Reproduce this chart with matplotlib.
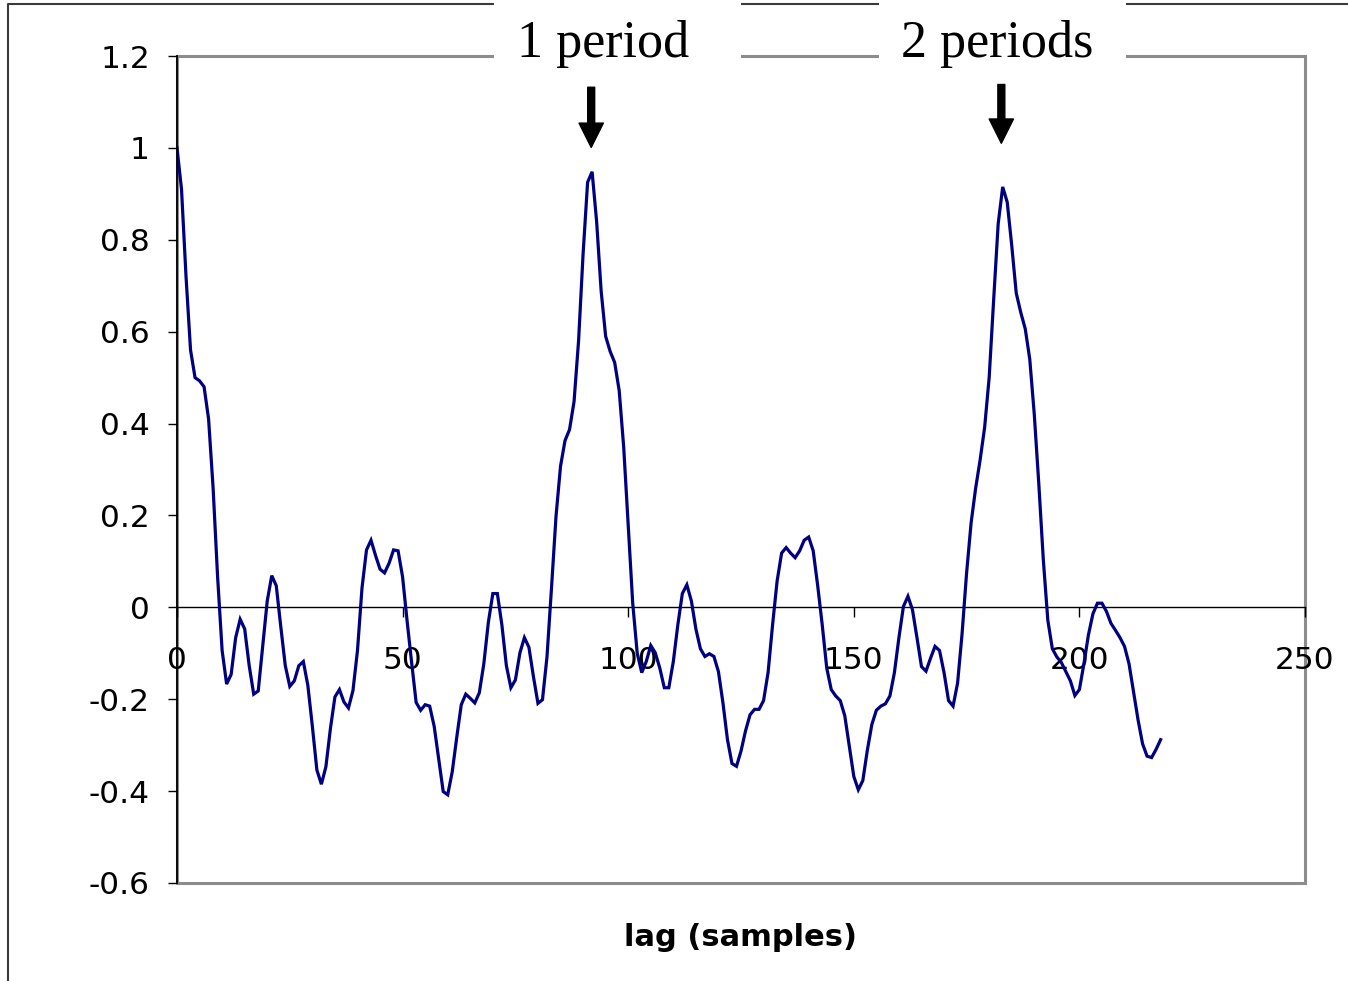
import numpy as np
import matplotlib
matplotlib.use("Agg")
import matplotlib.pyplot as plt
from matplotlib.patches import Rectangle
from matplotlib.lines import Line2D
from matplotlib.ticker import FuncFormatter

# ---------------- data ----------------
acf_0_49 = [1.0, 0.91, 0.72, 0.56, 0.50, 0.493, 0.48, 0.41, 0.26, 0.066,
            -0.094, -0.167, -0.146, -0.066, -0.026, -0.047, -0.127, -0.189, -0.182, -0.085,
            0.014, 0.069, 0.047, -0.042, -0.127, -0.172, -0.160, -0.127, -0.118, -0.170,
            -0.259, -0.354, -0.385, -0.347, -0.264, -0.195, -0.179, -0.206, -0.219, -0.181,
            -0.094, 0.042, 0.125, 0.146, 0.113, 0.083, 0.075, 0.096, 0.125, 0.123]
acf_50_99 = [0.066, -0.03, -0.12, -0.207, -0.224, -0.212, -0.215, -0.259, -0.330, -0.401,
             -0.408, -0.358, -0.283, -0.212, -0.189, -0.198, -0.208, -0.186, -0.123, -0.033,
             0.030, 0.030, -0.038, -0.127, -0.175, -0.158, -0.099, -0.066, -0.087, -0.151,
             -0.209, -0.201, -0.108, 0.042, 0.198, 0.307, 0.363, 0.387, 0.448, 0.580,
             0.769, 0.925, 0.948, 0.840, 0.689, 0.590, 0.557, 0.533, 0.472, 0.349]
acf_100_149 = [0.179, 0.009, -0.10, -0.142, -0.118, -0.083, -0.099, -0.132, -0.175, -0.175,
               -0.118, -0.038, 0.030, 0.049, 0.014, -0.047, -0.090, -0.107, -0.101, -0.107,
               -0.140, -0.208, -0.288, -0.340, -0.346, -0.313, -0.269, -0.234, -0.222, -0.222,
               -0.203, -0.142, -0.038, 0.057, 0.118, 0.130, 0.118, 0.108, 0.123, 0.146,
               0.153, 0.123, 0.047, -0.038, -0.132, -0.179, -0.193, -0.203, -0.236, -0.302]
acf_150_199 = [-0.368, -0.397, -0.377, -0.311, -0.255, -0.224, -0.215, -0.210, -0.193, -0.142,
               -0.066, 0.002, 0.024, -0.005, -0.066, -0.129, -0.139, -0.111, -0.085, -0.094,
               -0.142, -0.203, -0.215, -0.165, -0.057, 0.075, 0.184, 0.259, 0.321, 0.392,
               0.500, 0.670, 0.835, 0.915, 0.882, 0.788, 0.684, 0.642, 0.606, 0.540,
               0.420, 0.269, 0.104, -0.028, -0.090, -0.108, -0.12, -0.14, -0.160, -0.192]
acf_200_218 = [-0.179, -0.123, -0.06, -0.014, 0.009, 0.009, -0.009, -0.035, -0.050, -0.066,
               -0.085, -0.123, -0.184, -0.245, -0.297, -0.324, -0.327, -0.309, -0.288]

acf = acf_0_49 + acf_50_99 + acf_100_149 + acf_150_199 + acf_200_218
lags = list(range(len(acf)))

x_ticks = [0, 50, 100, 150, 200, 250]
y_ticks = [-0.6, -0.4, -0.2, 0, 0.2, 0.4, 0.6, 0.8, 1.0, 1.2]
x_label = "lag (samples)"
annot_labels = ["1 period", "2 periods"]
annot_lags = [91.8, 182.7]          # where the arrows point
annot_tip = [1.001, 1.010]
annot_top = [1.132, 1.138]

# ---------------- figure ----------------
W, H = 1348, 981
fig = plt.figure(figsize=(W / 100, H / 100), dpi=100)
fig.patch.set_facecolor("white")

def fx(px):
    return px / W

def fy(py):
    return 1 - py / H

L, R, T, B = 177, 1305, 56, 883
ax = fig.add_axes([fx(L), fy(B), fx(R - L), (B - T) / H])
ax.set_facecolor("white")

ax.plot(lags, acf, color="#000080", lw=2.3, zorder=3, solid_joinstyle="miter")

ax.set_xlim(0, 250)
ax.set_ylim(-0.6, 1.2)

# frame: grey plot-area border, black value axis
for s in ["top", "right"]:
    ax.spines[s].set_visible(False)
ax.add_patch(Rectangle((0, 0), 1, 1, transform=ax.transAxes, fill=False,
                       edgecolor="#8c8c8c", lw=2.2, clip_on=False, zorder=1))
ax.spines["left"].set_color("black")
ax.spines["left"].set_linewidth(1.3)
ax.spines["left"].set_zorder(4)
ax.spines["bottom"].set_position(("data", 0))
ax.spines["bottom"].set_color("black")
ax.spines["bottom"].set_linewidth(1.0)
ax.spines["bottom"].set_zorder(2)

ax.set_xticks(x_ticks)
ax.set_yticks(y_ticks)
ax.xaxis.set_major_formatter(FuncFormatter(lambda v, p: f"{v:g}"))
ax.yaxis.set_major_formatter(FuncFormatter(lambda v, p: f"{round(v, 1):g}"))
ax.tick_params(axis="x", direction="out", length=7, width=1, pad=21,
               labelsize=22.5, colors="black")
ax.tick_params(axis="y", direction="out", length=6.5, width=1, pad=13,
               labelsize=22.5, colors="black")
for lab in ax.get_xticklabels() + ax.get_yticklabels():
    lab.set_family("DejaVu Sans")

# x label
fig.text(fx(740), fy(938), x_label, ha="center", va="center",
         fontsize=22, fontweight="bold", family="DejaVu Sans")

# outer chart border (left & top)
fig.add_artist(Line2D([fx(8), fx(8), fx(1348)], [fy(981), fy(4), fy(4)],
                      transform=fig.transFigure, color="#3a3a3a", lw=1.5, zorder=1))

# annotation boxes and text
boxes = [(494, 741), (879, 1126)]
text_left = [517, 901]
for (bx0, bx1), tl, txt in zip(boxes, text_left, annot_labels):
    fig.add_artist(Rectangle((fx(bx0), fy(78)), fx(bx1 - bx0), 78 / H,
                             transform=fig.transFigure, facecolor="white",
                             edgecolor="none", zorder=5))
    fig.text(fx(tl), fy(57), txt, ha="left", va="baseline", fontsize=37.5,
             family="Liberation Serif", color="black", zorder=6)

# arrows
for xl, yt, ytop in zip(annot_lags, annot_tip, annot_top):
    ax.annotate("", xy=(xl, yt), xytext=(xl, ytop), xycoords="data",
                arrowprops=dict(arrowstyle="simple,head_length=1.75,head_width=1.75,tail_width=0.5",
                                mutation_scale=10, color="black", shrinkA=0, shrinkB=0),
                zorder=6)

fig.savefig("out.png", dpi=100, facecolor="white")
